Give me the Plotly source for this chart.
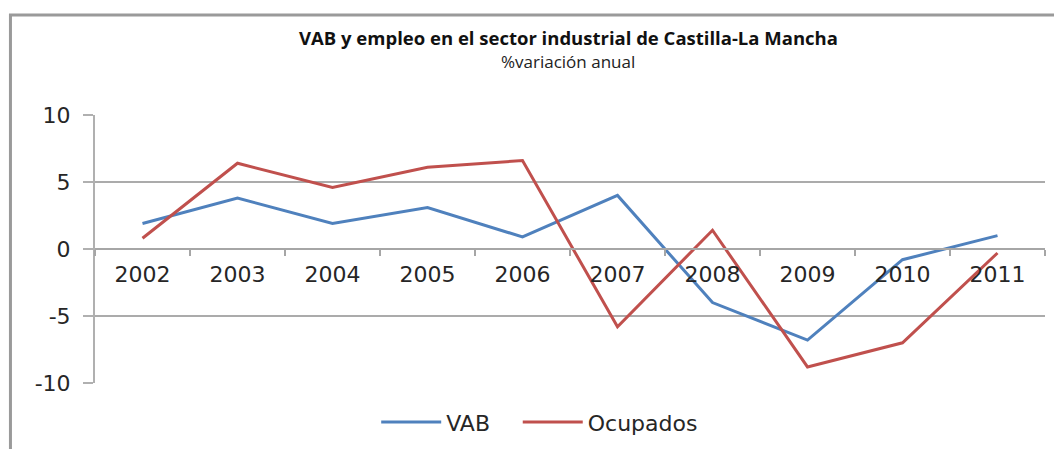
import plotly.graph_objects as go

years = ["2002", "2003", "2004", "2005", "2006", "2007", "2008", "2009", "2010", "2011"]
vab = [1.9, 3.8, 1.9, 3.1, 0.9, 4.0, -4.0, -6.8, -0.8, 1.0]
ocupados = [0.8, 6.4, 4.6, 6.1, 6.6, -5.8, 1.4, -8.8, -7.0, -0.3]
y_ticks = [-10, -5, 0, 5, 10]
y_labels = ["-10", "-5", "0", "5", "10"]

title = "VAB y empleo en el sector industrial de Castilla-La Mancha"
subtitle = "%variación anual"

fig = go.Figure()
fig.add_trace(go.Scatter(x=years, y=vab, name="VAB", mode="lines",
                         line=dict(color="#4F81BD", width=3), legend="legend"))
fig.add_trace(go.Scatter(x=years, y=ocupados, name="Ocupados", mode="lines",
                         line=dict(color="#C0504D", width=3), legend="legend2"))

# outer chart frame, like the Excel chart area border
fig.add_shape(type="rect", xref="paper", yref="paper",
              x0=-0.089, x1=1.2, y0=-0.6, y1=1.373,
              line=dict(color="#9a9a9a", width=3), layer="below")

fig.add_annotation(text="<b>" + title + "</b>", xref="paper", yref="paper",
                   x=0.498, y=1.29, showarrow=False, yanchor="middle",
                   font=dict(family="Open Sans", size=18.5, color="#111111"))
fig.add_annotation(text=subtitle, xref="paper", yref="paper",
                   x=0.498, y=1.198, showarrow=False, yanchor="middle",
                   font=dict(family="Open Sans", size=17, color="#222222"))

legend_style = dict(orientation="h", xanchor="left", y=-0.146, yanchor="middle",
                    font=dict(size=22, color="#262626"), itemwidth=60,
                    bgcolor="rgba(0,0,0,0)")

# page body adds 8px, so the figure is a bit smaller than the window
fig.update_layout(
    width=1054, height=441,
    margin=dict(l=87, r=17, t=107, b=66, autoexpand=False),
    paper_bgcolor="white", plot_bgcolor="white",
    font=dict(family="DejaVu Sans", size=22, color="#262626"),
    showlegend=True,
    legend=dict(x=0.296, **legend_style),
    legend2=dict(x=0.445, **legend_style),
)
fig.update_xaxes(type="category", anchor="free", position=0.5,
                 showline=True, linecolor="#a6a6a6", linewidth=2,
                 ticks="outside", tickson="boundaries", ticklen=6,
                 tickcolor="#a6a6a6", tickwidth=2, ticklabelstandoff=6,
                 showgrid=False, zeroline=False, range=[-0.5, 9.5])
fig.update_yaxes(range=[-10, 10], tickvals=y_ticks, ticktext=y_labels, showline=True,
                 linecolor="#b0b0b0", linewidth=2, ticks="outside", ticklen=10,
                 tickcolor="#b0b0b0", tickwidth=2, ticklabelstandoff=8,
                 showgrid=True, gridcolor="#ababab", gridwidth=1.5,
                 zeroline=False)

fig.write_html("out.html")
